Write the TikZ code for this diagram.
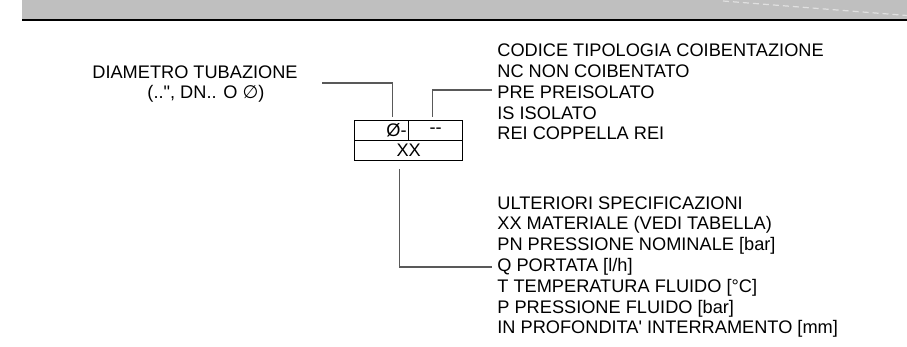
\documentclass[tikz,border=0pt]{standalone}
\usepackage{fontspec}
\newfontfamily\arial{Liberation Sans}
\newfontfamily\dejavu{DejaVu Sans}
\usetikzlibrary{positioning}
\begin{document}
\begin{tikzpicture}[x=0.5pt,y=-0.5pt,
  every node/.style={font=\arial\fontsize{9.1}{10.4}\selectfont,inner sep=0pt},
  cell/.style={draw,line width=0.65pt,minimum height=10pt},
  leader/.style={draw=black!65,line width=0.55pt}]
\useasboundingbox (0,0) rectangle (907,347);
% header band
\fill[black!25] (22,0) rectangle (907,19.5);
\draw[black!12,line width=0.6pt,dash pattern=on 3pt off 2pt] (723,1) -- (907,15.5);
\draw[line width=1pt] (22,20.5) -- (907,20.5);
% code box
\node[cell,anchor=north west,minimum width=27pt,text width=25pt,align=right] (dn) at (354,120) {Ø-};
\node[cell,anchor=north west,minimum width=27pt,text width=23pt,align=center] (tp) at (408,120) {--\hspace*{3pt}};
\node[cell,anchor=north west,minimum width=54pt] (xx) at (354,140) {XX};
% labels (base = last line)
\node[anchor=base,align=center] (dia) at (195,99) {DIAMETRO TUBAZIONE\\\hspace*{11pt}(..", DN.. O {\dejavu ∅})};
\node[anchor=base west,align=left] (cod) at (497,140) {CODICE TIPOLOGIA COIBENTAZIONE\\
  NC NON COIBENTATO\\PRE PREISOLATO\\IS ISOLATO\\REI COPPELLA REI};
\node[anchor=base west,align=left] (ult) at (497,334) {ULTERIORI SPECIFICAZIONI\\
  XX MATERIALE (VEDI TABELLA)\\PN PRESSIONE NOMINALE [bar]\\Q PORTATA [l/h]\\
  T TEMPERATURA FLUIDO [°C]\\P PRESSIONE FLUIDO [bar]\\IN PROFONDITA' INTERRAMENTO [mm]};
% leaders
\coordinate (d0) at (322,83);
\coordinate (pre) at (492,90);
\coordinate (q) at (492,267);
\draw[leader] (d0) -| ([xshift=5.5pt,yshift=1.5pt]dn.north);
\draw[leader] ([xshift=-1.5pt,yshift=1.5pt]tp.north) |- (pre);
\draw[leader] ([xshift=-4.5pt,yshift=-4pt]xx.south) |- (q);
\end{tikzpicture}
\end{document}
